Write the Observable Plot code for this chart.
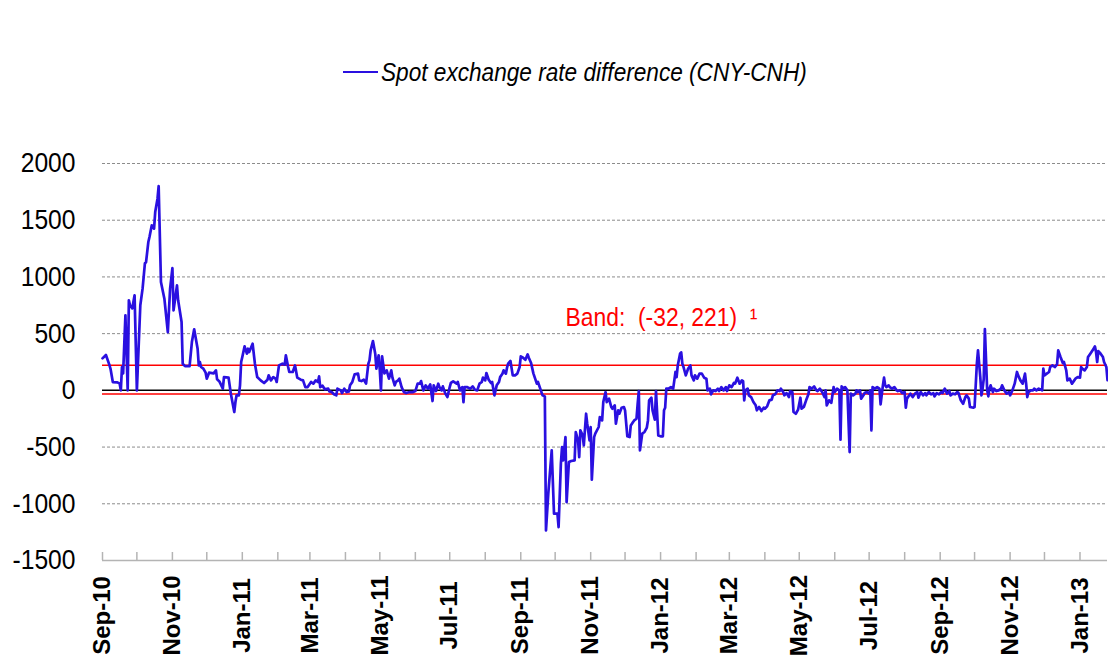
<!DOCTYPE html>
<html><head><meta charset="utf-8">
<script src="https://cdn.jsdelivr.net/npm/d3@7"></script>
<script src="https://cdn.jsdelivr.net/npm/@observablehq/plot@0.6"></script>
<style>
body{margin:0;background:#fff;}
#wrap{position:relative;width:1108px;height:661px;overflow:hidden;background:#fff;}
#legend{position:absolute;left:0;top:0;width:1108px;height:100px;}
#legend .swatch{position:absolute;left:343px;top:71px;width:35px;height:2px;background:#2a10e0;}
#legend .label{position:absolute;left:381px;top:59px;font-style:italic;font-size:26px;font-family:'Liberation Sans',Arial,sans-serif;line-height:27px;white-space:nowrap;color:#000;transform:scaleX(0.87);transform-origin:0 50%;}
#chart{position:absolute;left:0;top:100px;}
</style></head>
<body><div id="wrap"><div id="legend"><div class="swatch"></div><div class="label">Spot exchange rate difference (CNY-CNH)</div></div><div id="chart"></div></div>
<script>
// Spot exchange rate difference (CNY-CNH), in pips
const data2010 = [
["2010-09-01",282],["2010-09-04",312],["2010-09-07",225],["2010-09-08",190],["2010-09-10",73],["2010-09-14",70],["2010-09-16",59],["2010-09-17",0],["2010-09-18",206],["2010-09-19",150],["2010-09-21",661],["2010-09-23",0],["2010-09-24",794],["2010-09-25",750],["2010-09-27",723],["2010-09-29",838],
["2010-10-01",0],["2010-10-04",750],["2010-10-06",899],["2010-10-08",1120],["2010-10-09",1130],["2010-10-11",1308],["2010-10-12",1352],["2010-10-14",1455],["2010-10-16",1426],["2010-10-17",1572],["2010-10-19",1690],["2010-10-20",1801],["2010-10-22",955],["2010-10-25",808],["2010-10-28",514],["2010-10-30",897],
["2010-11-01",1078],["2010-11-02",705],["2010-11-05",926],["2010-11-06",794],["2010-11-09",602],["2010-11-10",235],["2010-11-12",214],["2010-11-16",214],["2010-11-18",426],["2010-11-20",538],["2010-11-23",367],["2010-11-24",220],["2010-11-25",250],["2010-11-26",206],["2010-11-28",191],["2010-11-30",156],
["2010-12-01",103],["2010-12-03",156],["2010-12-07",150],["2010-12-09",176],["2010-12-10",97],["2010-12-12",79],["2010-12-15",15],["2010-12-16",117],["2010-12-20",112],["2010-12-22",-29],["2010-12-25",-191],["2010-12-26",-103],["2010-12-27",-44],["2010-12-29",-44],["2010-12-30",44],["2010-12-31",250]
];
const data2011 = [
["2011-01-01",294],["2011-01-03",388],["2011-01-05",324],["2011-01-06",367],["2011-01-07",338],["2011-01-10",411],["2011-01-12",235],["2011-01-14",117],["2011-01-17",88],["2011-01-20",65],["2011-01-23",94],["2011-01-24",132],["2011-01-26",88],["2011-01-28",117],["2011-01-30",103],["2011-01-31",74],
["2011-02-02",220],["2011-02-05",235],["2011-02-07",226],["2011-02-08",309],["2011-02-10",206],["2011-02-11",162],["2011-02-14",162],["2011-02-16",220],["2011-02-18",112],["2011-02-21",94],["2011-02-23",88],["2011-02-25",29],["2011-02-27",29],
["2011-03-02",74],["2011-03-04",59],["2011-03-06",88],["2011-03-08",74],["2011-03-09",123],["2011-03-10",29],["2011-03-12",41],["2011-03-14",9],["2011-03-17",15],["2011-03-18",-9],["2011-03-20",-15],["2011-03-22",-35],["2011-03-24",-44],["2011-03-25",15],["2011-03-28",0],["2011-03-29",-24],["2011-03-31",15],
["2011-04-02",-15],["2011-04-04",-9],["2011-04-05",44],["2011-04-07",74],["2011-04-09",141],["2011-04-12",147],["2011-04-13",88],["2011-04-15",82],["2011-04-17",94],["2011-04-19",59],["2011-04-21",235],["2011-04-22",264],["2011-04-23",353],["2011-04-25",435],["2011-04-27",323],["2011-04-28",191],["2011-04-30",309],
["2011-05-01",176],["2011-05-02",0],["2011-05-03",300],["2011-05-05",150],["2011-05-07",176],["2011-05-09",103],["2011-05-11",176],["2011-05-12",112],["2011-05-14",44],["2011-05-15",74],["2011-05-17",88],["2011-05-18",103],["2011-05-20",29],["2011-05-22",-15],["2011-05-24",-24],["2011-05-27",-15],["2011-05-30",-15],
["2011-06-01",-6],["2011-06-03",59],["2011-06-05",59],["2011-06-06",82],["2011-06-08",0],["2011-06-10",44],["2011-06-12",15],["2011-06-14",53],["2011-06-16",-94],["2011-06-17",44],["2011-06-19",-6],["2011-06-21",59],["2011-06-22",29],["2011-06-24",0],["2011-06-25",35],["2011-06-27",-24],["2011-06-29",-59],
["2011-07-01",29],["2011-07-02",65],["2011-07-04",79],["2011-07-07",59],["2011-07-08",74],["2011-07-10",0],["2011-07-12",29],["2011-07-13",-103],["2011-07-14",29],["2011-07-16",29],["2011-07-19",15],["2011-07-21",35],["2011-07-23",6],["2011-07-25",0],["2011-07-27",59],["2011-07-29",74],["2011-07-30",112],
["2011-08-01",88],["2011-08-02",153],["2011-08-04",94],["2011-08-06",65],["2011-08-07",74],["2011-08-09",-44],["2011-08-11",44],["2011-08-13",74],["2011-08-14",117],["2011-08-16",147],["2011-08-17",176],["2011-08-19",147],["2011-08-20",200],["2011-08-21",235],["2011-08-23",259],["2011-08-25",132],["2011-08-27",132],["2011-08-29",147],["2011-08-31",206],
["2011-09-01",300],["2011-09-03",288],["2011-09-05",270],["2011-09-07",317],["2011-09-08",288],["2011-09-10",241],["2011-09-12",150],["2011-09-15",59],["2011-09-16",74],["2011-09-18",15],["2011-09-20",-44],["2011-09-22",-53],["2011-09-23",-1235],["2011-09-25",-911],["2011-09-28",-529],["2011-09-30",-1087],
["2011-10-03",-1087],["2011-10-04",-1205],["2011-10-06",-646],["2011-10-07",-500],["2011-10-08",-617],["2011-10-10",-412],["2011-10-11",-985],["2011-10-13",-632],["2011-10-15",-623],["2011-10-18",-617],["2011-10-19",-367],["2011-10-21",-441],["2011-10-22",-588],["2011-10-23",-353],["2011-10-25",-397],["2011-10-26",-485],["2011-10-28",-206],["2011-10-29",-294],["2011-10-31",-441],
["2011-11-01",-323],["2011-11-02",-788],["2011-11-04",-412],["2011-11-05",-382],["2011-11-08",-323],["2011-11-09",-235],["2011-11-11",-265],["2011-11-12",-103],["2011-11-14",-15],["2011-11-15",-103],["2011-11-17",-73],["2011-11-19",-147],["2011-11-20",-162],["2011-11-22",-132],["2011-11-23",-294],["2011-11-25",-176],["2011-11-26",-206],["2011-11-28",-153],["2011-11-30",-147],
["2011-12-01",-176],["2011-12-03",-405],["2011-12-05",-412],["2011-12-06",-309],["2011-12-08",-279],["2011-12-09",-265],["2011-12-11",-250],["2011-12-12",-118],["2011-12-13",-6],["2011-12-14",-529],["2011-12-16",-382],["2011-12-18",-367],["2011-12-20",-328],["2011-12-21",-265],["2011-12-22",-88],["2011-12-24",-65],["2011-12-25",-176],["2011-12-27",-259],["2011-12-28",-6],["2011-12-30",-397]
];
const data2012 = [
["2012-01-01",-405],["2012-01-03",-405],["2012-01-04",-176],["2012-01-05",-153],["2012-01-06",15],["2012-01-08",15],["2012-01-10",29],["2012-01-12",15],["2012-01-13",88],["2012-01-14",162],["2012-01-15",117],["2012-01-16",220],["2012-01-18",323],["2012-01-19",335],["2012-01-20",235],["2012-01-21",206],["2012-01-23",132],["2012-01-25",191],["2012-01-27",220],["2012-01-28",132],["2012-01-30",88],["2012-01-31",132],
["2012-02-02",103],["2012-02-04",147],["2012-02-06",147],["2012-02-08",112],["2012-02-10",103],["2012-02-11",0],["2012-02-13",15],["2012-02-14",-35],["2012-02-16",0],["2012-02-18",-6],["2012-02-20",15],["2012-02-21",-6],["2012-02-23",29],["2012-02-25",0],["2012-02-27",29],["2012-02-28",-6],
["2012-03-01",44],["2012-03-03",29],["2012-03-05",65],["2012-03-06",59],["2012-03-08",112],["2012-03-10",59],["2012-03-12",88],["2012-03-13",82],["2012-03-14",-88],["2012-03-15",0],["2012-03-17",15],["2012-03-18",-44],["2012-03-20",-59],["2012-03-22",-103],["2012-03-24",-132],["2012-03-25",-176],["2012-03-27",-147],["2012-03-29",-182],["2012-03-31",-153],
["2012-04-01",-162],["2012-04-03",-141],["2012-04-05",-88],["2012-04-07",-82],["2012-04-08",-44],["2012-04-10",-35],["2012-04-12",0],["2012-04-14",-6],["2012-04-15",15],["2012-04-17",-15],["2012-04-18",-44],["2012-04-20",-24],["2012-04-22",-59],["2012-04-23",-9],["2012-04-25",-15],["2012-04-26",-191],["2012-04-28",-206],["2012-04-30",-170],
["2012-05-02",-65],["2012-05-03",-162],["2012-05-05",-147],["2012-05-07",-88],["2012-05-09",-35],["2012-05-10",29],["2012-05-12",15],["2012-05-14",35],["2012-05-16",0],["2012-05-17",-6],["2012-05-19",15],["2012-05-21",-15],["2012-05-23",-59],["2012-05-24",0],["2012-05-25",-132],["2012-05-27",-88],["2012-05-29",-110],["2012-05-31",29],
["2012-06-01",-15],["2012-06-03",15],["2012-06-05",0],["2012-06-06",-435],["2012-06-07",35],["2012-06-09",15],["2012-06-10",29],["2012-06-12",0],["2012-06-14",-544],["2012-06-15",-29],["2012-06-17",-44],["2012-06-19",-29],["2012-06-20",0],["2012-06-21",-15],["2012-06-23",0],["2012-06-24",-73],["2012-06-26",-44],["2012-06-27",-24],["2012-06-29",-15],
["2012-07-01",-29],["2012-07-02",0],["2012-07-03",-353],["2012-07-04",29],["2012-07-06",15],["2012-07-08",29],["2012-07-10",15],["2012-07-11",-123],["2012-07-13",44],["2012-07-14",112],["2012-07-15",44],["2012-07-16",29],["2012-07-18",44],["2012-07-19",29],["2012-07-21",15],["2012-07-23",29],["2012-07-25",0],["2012-07-26",-6],["2012-07-28",0],["2012-07-30",-24],
["2012-08-01",-15],["2012-08-02",-153],["2012-08-03",-73],["2012-08-05",-44],["2012-08-06",-29],["2012-08-08",-59],["2012-08-10",-29],["2012-08-12",-15],["2012-08-13",-65],["2012-08-15",-15],["2012-08-17",-44],["2012-08-19",-24],["2012-08-20",-44],["2012-08-22",-15],["2012-08-24",-35],["2012-08-26",-24],["2012-08-27",-53],["2012-08-29",-24],["2012-08-31",-35],
["2012-09-02",-15],["2012-09-03",-24],["2012-09-05",15],["2012-09-07",-29],["2012-09-09",-6],["2012-09-10",-44],["2012-09-12",-29],["2012-09-14",-35],["2012-09-16",-15],["2012-09-17",-24],["2012-09-19",-88],["2012-09-21",-118],["2012-09-23",-59],["2012-09-24",-44],["2012-09-26",-73],["2012-09-27",-147],["2012-09-30",-153],
["2012-10-01",-147],["2012-10-03",235],["2012-10-04",353],["2012-10-06",117],["2012-10-07",-44],["2012-10-08",15],["2012-10-09",100],["2012-10-10",540],["2012-10-12",0],["2012-10-13",-53],["2012-10-14",15],["2012-10-15",44],["2012-10-17",-15],["2012-10-18",15],["2012-10-20",-6],["2012-10-22",0],["2012-10-24",15],["2012-10-25",44],["2012-10-27",0],["2012-10-29",-29],["2012-10-31",-15],
["2012-11-01",-44],["2012-11-03",0],["2012-11-05",59],["2012-11-07",162],["2012-11-08",132],["2012-11-10",88],["2012-11-12",59],["2012-11-14",147],["2012-11-15",59],["2012-11-16",-59],["2012-11-17",-15],["2012-11-19",0],["2012-11-21",0],["2012-11-22",15],["2012-11-24",0],["2012-11-26",15],["2012-11-28",6],["2012-11-29",0],["2012-11-30",191],
["2012-12-01",132],["2012-12-03",147],["2012-12-05",162],["2012-12-06",206],["2012-12-08",220],["2012-12-10",206],["2012-12-12",229],["2012-12-13",353],["2012-12-15",294],["2012-12-17",241],["2012-12-18",250],["2012-12-20",176],["2012-12-21",88],["2012-12-23",103],["2012-12-25",59],["2012-12-27",88],["2012-12-28",103],["2012-12-30",117]
];
const data2013 = [
["2013-01-01",112],["2013-01-02",206],["2013-01-03",191],["2013-01-05",176],["2013-01-07",206],["2013-01-08",294],["2013-01-10",323],["2013-01-12",353],["2013-01-14",388],["2013-01-15",338],["2013-01-16",250],["2013-01-17",347],["2013-01-19",323],["2013-01-21",294],["2013-01-22",250],["2013-01-24",206],["2013-01-25",90]
];

const yTicks = [-1500, -1000, -500, 0, 500, 1000, 1500, 2000];
const gridValues = [-1000, -500, 500, 1000, 1500, 2000];
const bandLower = -32;
const bandUpper = 221;
const xStart = "2010-09-01";
const xEnd = "2013-01-25";
const bandLabel = [{date: "2011-10-10", value: bandUpper, text: "Band:\u00a0 (-32, 221)\u00a0 \u00b9"}];

const parse = d3.utcParse("%Y-%m-%d");
const rows = [...data2010, ...data2011, ...data2012, ...data2013].map(([d, v]) => ({date: parse(d), value: v}));
const start = parse(xStart), end = parse(xEnd);
const monthTicks = d3.utcMonth.range(start, end);
const labelTicks = monthTicks.filter((d, i) => i % 2 === 0);
const fmt = d3.utcFormat("%b-%y");
const sans = "'Liberation Sans', Arial, sans-serif";
const blue = "#2a10e0", red = "#ff0000";

const chart = Plot.plot({
  width: 1108, height: 561,
  marginTop: 63, marginBottom: 101, marginLeft: 102, marginRight: 1,
  style: {fontFamily: sans, fontSize: "28px", background: "#fff", color: "#000", overflow: "visible"},
  x: {type: "utc", domain: [start, end], axis: null},
  y: {domain: [-1500, 2000], axis: null},
  marks: [
    Plot.ruleY(gridValues, {stroke: "#8c8c8c", strokeDasharray: "3,2", strokeWidth: 1}),
    Plot.ruleY([-1500], {stroke: "#b4b4b4", strokeWidth: 1.5}),
    Plot.tickX(monthTicks, {x: d => d, insetTop: 389, stroke: "#b4b4b4", strokeWidth: 1.5}),
    Plot.ruleY([0], {stroke: "#000", strokeWidth: 1.5}),
    Plot.ruleY([bandUpper, bandLower], {stroke: red, strokeWidth: 1.5}),
    Plot.axisY(yTicks, {label: null, tickSize: 0, tickPadding: 27, tickFormat: d => String(d), fontSize: 28, fill: "#000"}),
    Plot.text(labelTicks, {x: d => d, text: d => fmt(d), frameAnchor: "bottom", rotate: -90, dy: 55,
      textAnchor: "middle", lineAnchor: "middle", fontWeight: "bold", fontSize: 24,
      fontFamily: sans, fill: "#000"}),
    Plot.text(bandLabel, {x: d => parse(d.date), y: d => d.value, text: d => d.text, textAnchor: "start",
      dy: -48, fontSize: 26, fill: red}),
    Plot.line(rows, {x: "date", y: "value", stroke: blue, strokeWidth: 2.7})
  ]
});
document.getElementById("chart").appendChild(chart);

// emulate the condensed face of the original with horizontal compression
const yLabelSet = new Set(yTicks.map(String));
const bandTexts = new Set(bandLabel.map(d => d.text));
chart.querySelectorAll("text").forEach(el => {
  const t = el.textContent;
  let f = null;
  if (yLabelSet.has(t)) f = 0.88;
  else if (bandTexts.has(t)) f = 0.88;
  if (f) {
    const w = el.getComputedTextLength();
    el.setAttribute("textLength", (w * f).toFixed(1));
    el.setAttribute("lengthAdjust", "spacingAndGlyphs");
  }
});
</script>
</body></html>
